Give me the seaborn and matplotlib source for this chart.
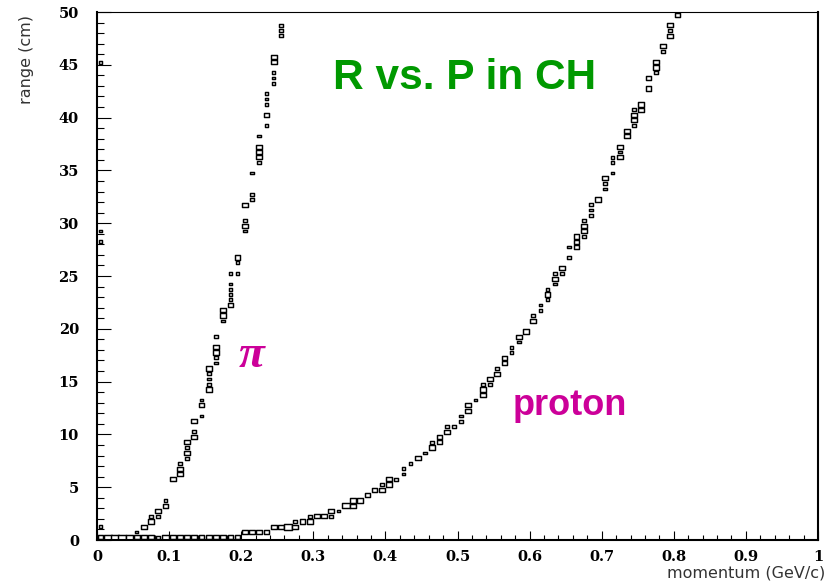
import numpy as np
import pandas as pd
import matplotlib
matplotlib.use("Agg")
import matplotlib.pyplot as plt
from matplotlib.path import Path
from matplotlib.ticker import MultipleLocator
import seaborn as sns

# Range vs. momentum in CH: 2D histogram, 0.01 GeV/c x 0.5 cm bins,
# box size grows with bin content.

# bottom row (range bin 0-0.5 cm)
floor_p = [0.005, 0.015, 0.025, 0.035, 0.045, 0.055, 0.065, 0.075, 0.085, 0.095,
           0.105, 0.115, 0.125, 0.135, 0.145, 0.155, 0.165, 0.175, 0.185, 0.195]
floor_r = [0.25] * 20
floor_n = [2, 3, 3, 3, 3, 2, 2, 2, 1, 3, 2, 2, 2, 2, 2, 2, 2, 2, 2, 2]

# pion band
pi_p = [0.005, 0.005, 0.005, 0.005,
        0.055, 0.065, 0.075, 0.075, 0.085, 0.085, 0.095, 0.095, 0.105,
        0.115, 0.115, 0.115, 0.125, 0.125, 0.125, 0.125,
        0.135, 0.135, 0.135, 0.145, 0.145, 0.145,
        0.155, 0.155, 0.155, 0.155, 0.155,
        0.165, 0.165, 0.165, 0.165, 0.165,
        0.175, 0.175, 0.175,
        0.185, 0.185, 0.185, 0.185, 0.185, 0.185,
        0.195, 0.195, 0.195,
        0.205, 0.205, 0.205, 0.205,
        0.215, 0.215, 0.215,
        0.225, 0.225, 0.225, 0.225, 0.225,
        0.235, 0.235, 0.235, 0.235, 0.235,
        0.245, 0.245, 0.245, 0.245, 0.245,
        0.255, 0.255, 0.255]
pi_r = [1.25, 28.25, 29.25, 45.25,
        0.75, 1.25, 1.75, 2.25, 2.25, 2.75, 3.25, 3.75, 5.75,
        6.25, 6.75, 7.25, 7.75, 8.25, 8.75, 9.25,
        9.75, 10.25, 11.25, 11.75, 12.75, 13.25,
        14.25, 14.75, 15.25, 15.75, 16.25,
        16.75, 17.25, 17.75, 18.25, 19.25,
        20.75, 21.25, 21.75,
        22.25, 22.75, 23.25, 23.75, 24.25, 25.25,
        25.25, 26.25, 26.75,
        29.25, 29.75, 30.25, 31.75,
        32.25, 32.75, 34.75,
        35.75, 36.25, 36.75, 37.25, 38.25,
        39.25, 40.25, 41.25, 41.75, 42.25,
        43.25, 43.75, 44.25, 45.25, 45.75,
        47.75, 48.25, 48.75]
pi_n = [1, 1, 1, 1,
        1, 2, 2, 1, 1, 2, 2, 1, 2,
        2, 2, 1, 1, 2, 1, 2,
        2, 1, 2, 1, 2, 1,
        2, 1, 1, 1, 2,
        1, 1, 2, 2, 1,
        1, 2, 2,
        2, 1, 1, 1, 1, 1,
        1, 1, 2,
        1, 2, 1, 2,
        1, 1, 1,
        1, 2, 2, 2, 1,
        1, 2, 1, 1, 1,
        1, 1, 1, 2, 2,
        1, 1, 1]

# proton band
pr_p = [0.205, 0.215, 0.225, 0.235,
        0.245, 0.255, 0.265, 0.275, 0.275, 0.285, 0.295, 0.295,
        0.305, 0.315, 0.325, 0.325, 0.335,
        0.345, 0.355, 0.355, 0.365, 0.375, 0.385, 0.395, 0.395,
        0.405, 0.405, 0.415, 0.425, 0.425, 0.435, 0.445, 0.455, 0.465, 0.465,
        0.475, 0.475, 0.485, 0.485, 0.495,
        0.505, 0.505, 0.515, 0.515, 0.525, 0.535, 0.535, 0.535, 0.545, 0.545,
        0.555, 0.555, 0.565, 0.565, 0.575, 0.575, 0.585, 0.585, 0.595,
        0.605, 0.605, 0.615, 0.615, 0.625, 0.625, 0.625, 0.635, 0.635, 0.635,
        0.645, 0.645, 0.655, 0.655, 0.665, 0.665, 0.665,
        0.675, 0.675, 0.675, 0.675, 0.685, 0.685, 0.685, 0.695,
        0.705, 0.705, 0.705, 0.715, 0.715, 0.715,
        0.725, 0.725, 0.725, 0.735, 0.735,
        0.745, 0.745, 0.745, 0.745, 0.755, 0.755,
        0.765, 0.765, 0.775, 0.775, 0.775, 0.785, 0.785,
        0.795, 0.795, 0.795, 0.805]
pr_r = [0.75, 0.75, 0.75, 0.75,
        1.25, 1.25, 1.25, 1.25, 1.75, 1.75, 1.75, 2.25,
        2.25, 2.25, 2.25, 2.75, 2.75,
        3.25, 3.25, 3.75, 3.75, 4.25, 4.75, 4.75, 5.25,
        5.25, 5.75, 5.75, 6.25, 6.75, 7.25, 7.75, 8.25, 8.75, 9.25,
        9.25, 9.75, 10.25, 10.75, 10.75,
        11.25, 11.75, 12.25, 12.75, 13.25, 13.75, 14.25, 14.75, 14.75, 15.25,
        15.75, 16.25, 16.75, 17.25, 17.75, 18.25, 18.75, 19.25, 19.75,
        20.75, 21.25, 21.75, 22.25, 22.75, 23.25, 23.75, 24.25, 24.75, 25.25,
        25.25, 25.75, 26.75, 27.75, 27.75, 28.25, 28.75,
        28.75, 29.25, 29.75, 30.25, 30.75, 31.25, 31.75, 32.25,
        33.25, 33.75, 34.25, 34.75, 35.75, 36.25,
        36.25, 36.75, 37.25, 38.25, 38.75,
        39.25, 39.75, 40.25, 40.75, 40.75, 41.25,
        42.75, 43.75, 44.25, 44.75, 45.25, 46.25, 46.75,
        47.75, 48.25, 48.75, 49.75]
pr_n = [2, 2, 2, 2,
        2, 2, 3, 2, 1, 2, 2, 1,
        2, 2, 1, 2, 1,
        3, 2, 2, 2, 2, 2, 2, 1,
        2, 2, 1, 1, 1, 1, 2, 1, 2, 1,
        2, 2, 2, 1, 1,
        1, 1, 2, 2, 1, 2, 2, 1, 1, 2,
        2, 1, 2, 2, 1, 1, 1, 2, 2,
        2, 1, 1, 1, 1, 2, 1, 1, 2, 1,
        1, 2, 1, 1, 2, 2, 2,
        1, 2, 2, 1, 1, 1, 1, 2,
        1, 1, 2, 1, 1, 1,
        2, 1, 2, 2, 2,
        1, 2, 2, 1, 2, 2,
        2, 2, 1, 2, 2, 1, 2,
        2, 1, 2, 2]

df = pd.DataFrame({
    "p": floor_p + pi_p + pr_p,
    "r": floor_r + pi_r + pr_r,
    "n": floor_n + pi_n + pr_n,
})

sns.set_theme(style="white")
plt.rcParams["font.family"] = ["DejaVu Sans"]

W, H = 832, 582
fig = plt.figure(figsize=(W / 100, H / 100), dpi=100)
x0, x1, y0, y1 = 97, 818, 12, 540
ax = fig.add_axes([x0 / W, 1 - y1 / H, (x1 - x0) / W, (y1 - y0) / H])

# rectangular box marker with the bin's aspect ratio
box = Path([(-1, -0.74), (1, -0.74), (1, 0.74), (-1, 0.74), (-1, -0.74)],
           [Path.MOVETO, Path.LINETO, Path.LINETO, Path.LINETO, Path.CLOSEPOLY])

sns.scatterplot(data=df, x="p", y="r", size="n", sizes={1: 7, 2: 17, 3: 30},
                marker=box, linewidth=1.05, legend=False, ax=ax)
for coll in ax.collections:
    coll.set_facecolor("white")
    coll.set_edgecolor("black")

ax.set_xlim(0, 1)
ax.set_ylim(0, 50)
ax.set_xlabel("")
ax.set_ylabel("")

ax.xaxis.set_major_locator(MultipleLocator(0.1))
ax.xaxis.set_minor_locator(MultipleLocator(0.02))
ax.yaxis.set_major_locator(MultipleLocator(5))
ax.yaxis.set_minor_locator(MultipleLocator(1))
ax.set_xticks(np.arange(0, 1.01, 0.1))
ax.set_xticklabels(["0", "0.1", "0.2", "0.3", "0.4", "0.5", "0.6", "0.7", "0.8", "0.9", "1"])
ax.set_yticks(np.arange(0, 51, 5))
ax.set_yticklabels([str(v) for v in range(0, 51, 5)])

ax.tick_params(axis="both", which="both", direction="in", color="black",
               bottom=True, left=True, top=False, right=False)
ax.tick_params(axis="x", which="major", length=6.5, width=0.8, pad=7)
ax.tick_params(axis="x", which="minor", length=3.3, width=0.8)
ax.tick_params(axis="y", which="major", length=10, width=0.8, pad=13)
ax.tick_params(axis="y", which="minor", length=5, width=0.8)
for lab in ax.get_xticklabels() + ax.get_yticklabels():
    lab.set_fontfamily("DejaVu Serif")
    lab.set_fontweight("bold")
    lab.set_fontsize(10.5)
    lab.set_color("black")

for side in ["left", "bottom", "right"]:
    ax.spines[side].set_linewidth(1.5)
    ax.spines[side].set_color("black")
ax.spines["top"].set_linewidth(0.8)
ax.spines["top"].set_color("black")

# annotations
ax.text(0.51, 42.68, "R vs. P in CH", ha="center", va="baseline",
        fontsize=30.5, fontweight="bold", color="#009900",
        fontfamily="Liberation Sans")
ax.text(0.197, 16.38, "\u03c0", ha="left", va="baseline",
        fontsize=34, fontweight="bold", fontstyle="italic", color="#CC0099",
        fontfamily="Liberation Serif")
ax.text(0.5766, 11.84, "proton", ha="left", va="baseline",
        fontsize=26, fontweight="bold", color="#CC0099",
        fontfamily="Liberation Sans")

fig.text(26 / W, 1 - 15 / H, "range (cm)", rotation=90, ha="center", va="top",
         fontsize=11.5, color="#333333")
fig.text(825 / W, 1 - 573 / H, "momentum (GeV/c)", ha="right", va="center",
         fontsize=11.5, color="#333333")

fig.savefig("out.png", dpi=100, facecolor="white")
